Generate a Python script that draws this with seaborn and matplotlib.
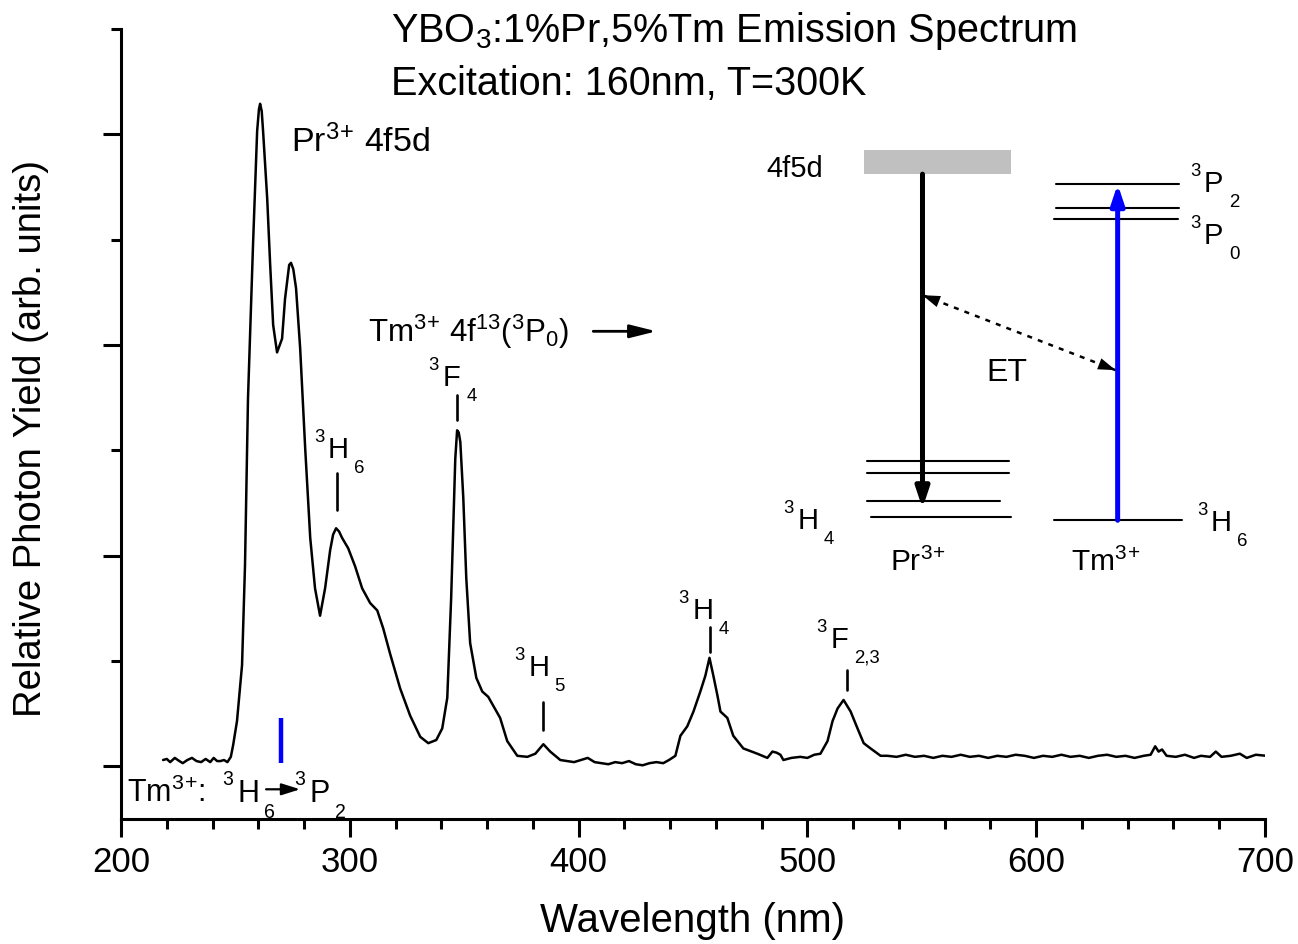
import numpy as np
import pandas as pd
import matplotlib
matplotlib.use("Agg")
import matplotlib.pyplot as plt
import seaborn as sns
from matplotlib.patches import Rectangle
from matplotlib.textpath import TextPath
from matplotlib.font_manager import FontProperties

# ---------------- data ----------------
wavelength_nm = [
    218.4, 220.0, 221.5, 223.5, 225.5, 227.0, 229.0, 231.0, 233.0, 235.0,
    237.0, 239.0, 240.5, 242.0, 243.5, 245.0, 246.5, 248.0, 249.0, 250.7,
    252.9, 254.2, 255.5, 257.7, 259.5, 260.3, 260.8, 261.5, 262.1, 263.9, 265.2, 266.5,
    268.2, 270.4, 271.7, 273.5, 274.3, 275.3, 276.5, 278.3, 280.5, 282.7, 284.8,
    287.0, 289.2, 291.4, 292.7, 294.0, 295.3, 296.6, 299.3, 302.3, 305.4, 308.9, 312.0,
    314.6, 317.6, 322.0, 326.4, 330.8, 334.3, 337.8, 340.4, 342.6, 344.3,
    346.1, 346.9, 347.6, 348.3, 349.6, 350.9, 352.6, 355.3, 357.9, 360.5, 363.1,
    365.7, 368.8, 373.2, 377.6, 381.1, 384.6, 387.6, 392.0, 395.0, 398.0,
    401.0, 404.0, 407.0, 410.0, 413.0, 416.0, 419.0, 422.0, 425.0, 428.0,
    431.0, 434.0, 437.0, 439.5, 442.3, 444.5, 447.5, 450.2, 453.2, 455.4,
    457.2, 458.9, 460.7, 462.0, 465.0, 467.6, 472.0, 478.1, 482.5, 484.7,
    486.5, 488.2, 489.5, 493.0, 496.9, 500.0, 503.0, 505.7, 508.8, 511.0,
    513.2, 515.8, 518.9, 521.9, 524.6, 527.6, 532.0, 535.0, 539.0, 543.0,
    547.0, 551.0, 555.0, 559.0, 563.0, 567.0, 571.0, 575.0, 579.0, 583.0,
    587.0, 591.0, 595.0, 599.0, 603.0, 607.0, 611.0, 615.0, 619.0, 623.0,
    627.0, 631.0, 635.0, 639.0, 643.0, 647.0, 650.0, 652.0, 653.5, 655.0,
    657.0, 661.0, 665.0, 669.0, 672.0, 676.0, 678.5, 681.0, 685.0, 689.0,
    692.0, 696.0, 700.5,
]
photon_yield = [
    0.06, 0.07, 0.04, 0.08, 0.05, 0.03, 0.06, 0.08, 0.05, 0.04,
    0.07, 0.04, 0.08, 0.05, 0.05, 0.06, 0.04, 0.09, 0.20, 0.43,
    0.96, 1.91, 3.49, 4.95, 6.03, 6.24, 6.29, 6.22, 6.03, 5.39, 4.76, 4.19,
    3.93, 4.06, 4.44, 4.76, 4.78, 4.72, 4.54, 3.97, 3.02, 2.17, 1.69,
    1.43, 1.69, 2.05, 2.20, 2.26, 2.23, 2.17, 2.07, 1.90, 1.69, 1.55, 1.48,
    1.31, 1.07, 0.74, 0.48, 0.28, 0.22, 0.25, 0.36, 0.65, 1.60,
    2.92, 3.19, 3.17, 3.08, 2.55, 1.79, 1.17, 0.84, 0.71, 0.66, 0.56,
    0.46, 0.24, 0.10, 0.09, 0.12, 0.21, 0.14, 0.06, 0.05, 0.04,
    0.06, 0.08, 0.04, 0.03, 0.02, 0.04, 0.03, 0.05, 0.02, 0.01,
    0.03, 0.04, 0.03, 0.06, 0.10, 0.29, 0.38, 0.52, 0.71, 0.86,
    1.03, 0.86, 0.67, 0.52, 0.46, 0.29, 0.17, 0.12, 0.08, 0.14,
    0.13, 0.11, 0.06, 0.08, 0.09, 0.08, 0.11, 0.12, 0.24, 0.43,
    0.55, 0.63, 0.52, 0.36, 0.22, 0.17, 0.10, 0.10, 0.09, 0.11,
    0.09, 0.10, 0.08, 0.10, 0.09, 0.11, 0.09, 0.10, 0.08, 0.10,
    0.09, 0.11, 0.10, 0.08, 0.10, 0.09, 0.11, 0.09, 0.10, 0.08,
    0.10, 0.11, 0.09, 0.10, 0.08, 0.10, 0.11, 0.19, 0.14, 0.16,
    0.10, 0.09, 0.11, 0.08, 0.10, 0.09, 0.14, 0.09, 0.10, 0.12,
    0.08, 0.11, 0.10,
]
x_major_ticks = [200, 300, 400, 500, 600, 700]
tm_absorption_nm = 270          # Tm3+ 3H6 -> 3P2 marker
tm_absorption_span = [0.03, 0.455]

# ---------------- style ----------------
sns.set_style("ticks")
plt.rcParams["font.family"] = ["Liberation Sans", "DejaVu Sans"]
plt.rcParams["mathtext.default"] = "regular"
for key in ["text.color", "axes.labelcolor", "xtick.color", "ytick.color", "axes.edgecolor"]:
    plt.rcParams[key] = "black"

fig = plt.figure(figsize=(12.98, 9.45), dpi=100)
ax = fig.add_axes([121 / 1298, 1 - 820 / 945, (1265 - 121) / 1298, (820 - 30) / 945])

df = pd.DataFrame({"Wavelength (nm)": wavelength_nm, "Yield": photon_yield})
sns.lineplot(data=df, x="Wavelength (nm)", y="Yield", ax=ax, color="black",
             lw=1.8, sort=False, estimator=None)

ax.set_xlim(200, 700)
ax.set_ylim(-0.5, 7)
ax.set_xticks(x_major_ticks)
ax.set_xticks(np.arange(200, 701, 20), minor=True)
ax.set_yticks([0, 2, 4, 6])
ax.set_yticks([1, 3, 5, 7], minor=True)
ax.set_yticklabels([])
ax.tick_params(which="major", length=13, width=2.2, direction="out", labelsize=25, pad=6)
ax.tick_params(which="minor", length=7, width=2.2, direction="out")
for s in ["top", "right"]:
    ax.spines[s].set_visible(False)
for s in ["left", "bottom"]:
    ax.spines[s].set_linewidth(2.2)
ax.set_xlabel("Wavelength (nm)", fontsize=29, labelpad=16)
ax.set_ylabel("Relative Photon Yield (arb. units)", fontsize=27.5)
ax.yaxis.set_label_coords(-0.0625, 0.4835)

# ---------------- helpers ----------------
def text_width_pt(s, fs):
    tp = TextPath((0, 0), s, size=fs, prop=FontProperties(family="Liberation Sans"))
    return tp.get_extents().x1


def level_label(x, y, main, sup, sub, fs=21):
    ax.text(x, y, main, fontsize=fs, ha="left", va="baseline")
    ax.annotate(sup, xy=(x, y), xytext=(-0.12 * fs, 0.56 * fs), textcoords="offset points",
                fontsize=0.64 * fs, ha="right", va="baseline")
    w = text_width_pt(main, fs)
    ax.annotate(sub, xy=(x, y), xytext=(w + 0.25 * fs, -0.5 * fs), textcoords="offset points",
                fontsize=0.64 * fs, ha="left", va="baseline")


def arrow(x0, y0, x1, y1, color="black", lw=2.0, hl=0.6, hw=0.2, ms=20, ls="-"):
    ax.annotate("", xy=(x1, y1), xytext=(x0, y0),
                arrowprops=dict(arrowstyle=f"-|>,head_length={hl},head_width={hw}",
                                lw=lw, color=color, shrinkA=0, shrinkB=0,
                                mutation_scale=ms, linestyle=ls))


# ---------------- title ----------------
fig.text(391 / 1298, 1 - 42 / 945, "YBO$_3$:1%Pr,5%Tm Emission Spectrum", fontsize=28.5,
         ha="left", va="baseline")
fig.text(391 / 1298, 1 - 95 / 945, "Excitation: 160nm, T=300K", fontsize=28.5,
         ha="left", va="baseline")

# ---------------- spectrum annotations ----------------
ax.text(274.3, 5.84, "Pr$^{3}$$^{+}$ 4f5d", fontsize=24.5, ha="left", va="baseline")
ax.text(308.0, 4.04, "Tm$^{3}$$^{+}$ 4f$^{13}$($^{3}$P$_{0}$)", fontsize=22.5, ha="left",
        va="baseline")
arrow(406.4, 4.13, 434.0, 4.13, lw=2.0, hl=0.8, hw=0.2, ms=20)

peak_marks = [(294.5, 2.783, 2.431), (346.9, 3.523, 3.286), (384.6, 0.608, 0.342),
              (457.6, 1.320, 1.083), (517.1, 0.912, 0.722)]
for xm, ytop, ybot in peak_marks:
    ax.plot([xm, xm], [ybot, ytop], color="black", lw=1.9)

level_label(290.5, 2.934, "H", "3", "6")
level_label(340.4, 3.618, "F", "3", "4")
level_label(378.0, 0.864, "H", "3", "5")
level_label(449.7, 1.405, "H", "3", "4")
level_label(510.1, 1.130, "F", "3", "2,3")

# Tm absorption marker and label
ax.plot([tm_absorption_nm, tm_absorption_nm], tm_absorption_span, color="#0000ff", lw=3.2,
        solid_capstyle="butt")
ax.text(202.6, -0.332, "Tm$^{3}$$^{+}$:", fontsize=22, ha="left", va="baseline")
level_label(250.7, -0.332, "H", "3", "6", fs=22)
arrow(263.4, -0.218, 278.3, -0.218, lw=1.6, hl=0.7, hw=0.22, ms=16)
level_label(282.2, -0.332, "P", "3", "2", fs=22)

# ---------------- energy level diagram ----------------
ax.add_patch(Rectangle((524.9, 5.622), 63.9, 0.228, facecolor="#c0c0c0", edgecolor="none"))
ax.text(482.1, 5.603, "4f5d", fontsize=21, ha="left", va="baseline")

pr_levels = [(526.2, 587.9, 2.896), (526.2, 587.9, 2.783), (526.2, 584.0, 2.517),
             (527.6, 589.2, 2.365)]
for xa, xb, yl in pr_levels:
    ax.plot([xa, xb], [yl, yl], color="black", lw=1.5)
tm_levels = [(608.5, 662.3, 5.527), (608.5, 662.3, 5.299), (607.6, 661.8, 5.195),
             (607.6, 663.6, 2.336)]
for xa, xb, yl in tm_levels:
    ax.plot([xa, xb], [yl, yl], color="black", lw=1.5)

arrow(550.3, 5.622, 550.3, 2.45, lw=3.6, hl=0.6, hw=0.2, ms=20)
arrow(635.6, 2.336, 635.6, 5.527, color="#0000ff", lw=3.6, hl=0.6, hw=0.2, ms=20)

# ET dotted double arrow
et_a = (550.3, 4.473)
et_b = (634.7, 3.761)
ax.plot([et_a[0], et_b[0]], [et_a[1], et_b[1]], color="black", lw=1.8,
        linestyle=(0, (2, 2.5)))
for p, q in [(et_a, et_b), (et_b, et_a)]:
    qx = p[0] + 0.12 * (q[0] - p[0])
    qy = p[1] + 0.12 * (q[1] - p[1])
    arrow(qx, qy, p[0], p[1], lw=0.01, hl=0.9, hw=0.3, ms=14)
ax.text(578.3, 3.666, "ET", fontsize=23, ha="left", va="baseline")

level_label(495.6, 2.260, "H", "3", "4")
level_label(673.2, 5.461, "P", "3", "2")
level_label(673.2, 4.967, "P", "3", "0")
level_label(676.3, 2.241, "H", "3", "6")
ax.text(536.3, 1.861, "Pr$^{3}$$^{+}$", fontsize=21.5, ha="left", va="baseline")
ax.text(615.0, 1.861, "Tm$^{3}$$^{+}$", fontsize=21.5, ha="left", va="baseline")

fig.savefig("out.png", dpi=100)
